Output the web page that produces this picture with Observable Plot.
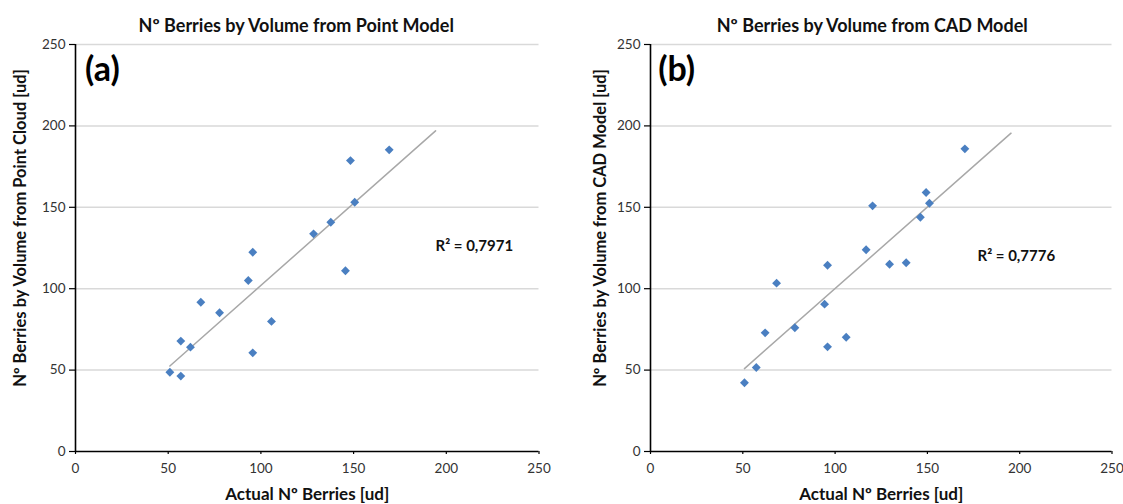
<!DOCTYPE html>
<html><head><meta charset="utf-8">
<script src="https://cdn.jsdelivr.net/npm/d3@7"></script>
<script src="https://cdn.jsdelivr.net/npm/@observablehq/plot@0.6"></script>
<style>
body{margin:0;background:#fff;}
#wrap{display:flex;width:1123px;height:504px;overflow:hidden;}
</style></head><body><div id="wrap"></div>
<script>
const xTicks = [0, 50, 100, 150, 200, 250];
const yTicks = [0, 50, 100, 150, 200, 250];
const gridTicks = [50, 100, 150, 200, 250];

// Panel (a): point cloud model
const pointActual = [50.9, 56.8, 56.8, 62.0, 67.6, 77.7, 93.2, 95.6, 95.6, 105.7, 128.4, 137.7, 145.6, 148.3, 150.6, 169.2];
const pointVolume = [48.7, 46.3, 67.8, 64.1, 91.7, 85.2, 105.0, 122.4, 60.6, 79.9, 133.7, 140.8, 111.0, 178.7, 153.1, 185.3];

// Panel (b): CAD model
const cadActual = [50.9, 57.3, 62.1, 68.3, 78.2, 94.3, 95.9, 95.9, 106.0, 116.8, 120.3, 129.5, 138.5, 146.2, 149.3, 151.1, 170.3];
const cadVolume = [42.2, 51.6, 72.9, 103.4, 76.0, 90.5, 114.4, 64.3, 70.2, 123.9, 150.9, 115.0, 115.9, 143.9, 159.1, 152.5, 185.9];

const panelTitles = ["Nº Berries by Volume from Point Model", "Nº Berries by Volume from CAD Model"];
const yLabels = ["Nº Berries by Volume from Point Cloud [ud]", "Nº Berries by Volume from CAD Model [ud]"];
const xLabel = "Actual Nº Berries [ud]";
const panelTags = ["(a)", "(b)"];
const r2Labels = ["R² = 0,7971", "R² = 0,7776"];
const forecastForward = 25;

function fit(xs, ys) {
  const mx = d3.mean(xs), my = d3.mean(ys);
  let sxy = 0, sxx = 0;
  xs.forEach((x, i) => { sxy += (x - mx) * (ys[i] - my); sxx += (x - mx) * (x - mx); });
  const slope = sxy / sxx;
  return {slope, intercept: my - slope * mx};
}

const FONT = "Lato, 'Open Sans', sans-serif";

function panel(o) {
  const data = o.xs.map((x, i) => ({x, y: o.ys[i]}));
  const {slope, intercept} = fit(o.xs, o.ys);
  const trend = [d3.min(o.xs), d3.max(o.xs) + forecastForward].map(x => ({x, y: intercept + slope * x}));
  return Plot.plot({
    width: o.width, height: 504,
    marginLeft: o.ml, marginRight: o.mr, marginTop: 44, marginBottom: 53,
    x: {domain: [0, 250]},
    y: {domain: [0, 250]},
    style: {fontFamily: FONT, background: "#fff", overflow: "visible"},
    marks: [
      Plot.ruleY(gridTicks, {stroke: "#d9d9d9", strokeWidth: 1.5}),
      Plot.axisX({ticks: xTicks, tickSize: 3, tickPadding: 9, fontSize: 13.5, label: null, stroke: "#000", fill: "#333", strokeWidth: 1.2}),
      Plot.axisY({ticks: yTicks, tickSize: 6, tickPadding: 4, fontSize: 13.5, label: null, stroke: "#000", fill: "#333", strokeWidth: 1.2}),
      Plot.ruleY([0], {stroke: "#000", strokeWidth: 1.6}),
      Plot.ruleX([0], {stroke: "#000", strokeWidth: 1.6}),
      Plot.line(trend, {x: "x", y: "y", stroke: "#a8a8a8", strokeWidth: 1.5}),
      Plot.dot(data, {x: "x", y: "y", symbol: "diamond2", r: 4, fill: "#4a7fc1", stroke: "none"}),
      Plot.text([o.title], {text: d => d, frameAnchor: "top", dx: o.tdx, dy: -18, lineAnchor: "middle", fontSize: 18, fontWeight: "bold", fill: "#111"}),
      Plot.text([o.tag], {text: d => d, frameAnchor: "top-left", dx: o.gdx, dy: 26, textAnchor: "start", lineAnchor: "middle", fontSize: 34, fontWeight: "bold", fill: "#000"}),
      Plot.text([o.r2], {text: d => d, frameAnchor: "top-left", dx: o.rdx, dy: o.rdy, textAnchor: "start", lineAnchor: "middle", fontSize: 15, fontWeight: "bold", fill: "#111"}),
      Plot.text([o.ylabel], {text: d => d, frameAnchor: "left", dx: o.ydx, dy: -20, rotate: -90, textAnchor: "middle", lineAnchor: "middle", fontSize: 16.5, fontWeight: "bold", fill: "#111"}),
      Plot.text([xLabel], {text: d => d, frameAnchor: "bottom", dy: 43, lineAnchor: "middle", fontSize: 17, fontWeight: "bold", fill: "#111"})
    ]
  });
}

const wrap = document.getElementById("wrap");
wrap.appendChild(panel({xs: pointActual, ys: pointVolume, width: 561, ml: 75, mr: 22.5,
  title: panelTitles[0], tdx: -11, tag: panelTags[0], gdx: 9.6, r2: r2Labels[0], rdx: 360, rdy: 202,
  ylabel: yLabels[0], ydx: -55}));
wrap.appendChild(panel({xs: cadActual, ys: cadVolume, width: 562, ml: 89, mr: 11.5,
  title: panelTitles[1], tdx: -9, tag: panelTags[1], gdx: 7.7, r2: r2Labels[1], rdx: 327, rdy: 212,
  ylabel: yLabels[1], ydx: -50}));
</script></body></html>
